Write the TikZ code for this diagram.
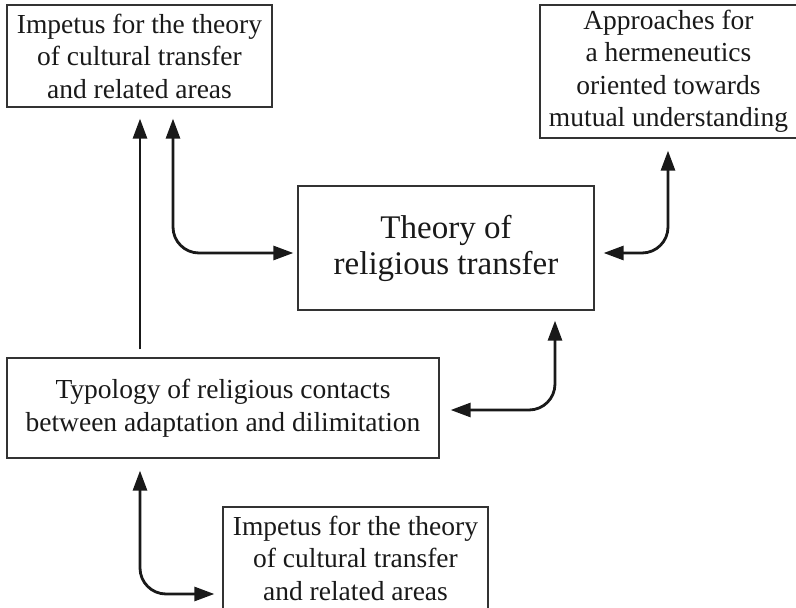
\documentclass[tikz,border=0pt]{standalone}
\usepackage{fontspec}
\setmainfont{Liberation Serif}
\usetikzlibrary{arrows.meta}
\begin{document}
\begin{tikzpicture}[x=1pt,y=-1pt,
  box/.style={draw=black!80, line width=1.3pt, inner sep=0pt, align=center,
    font=\fontsize{27.5}{32.5}\selectfont, text=black!90},
  bigbox/.style={box, font=\fontsize{33}{36}\selectfont},
  conn/.style={draw=black!90, line width=2.8pt, rounded corners=26pt},
  tip/.style={Triangle[length=20pt,width=14pt]},
  one/.style={conn, -{Triangle[length=20pt,width=14pt]}},
  two/.style={conn, {Triangle[length=20pt,width=14pt]}-{Triangle[length=20pt,width=14pt]}}
]
\useasboundingbox (0,0) rectangle (796,608);

\node[box, minimum width=265pt, minimum height=102pt] (topleft) at (139.5,56)
  {Impetus for the theory\\of cultural transfer\\and related areas};
\node[box, minimum width=257pt, minimum height=133pt] (topright) at (668.5,71.5)
  {Approaches for\\a hermeneutics\\oriented towards\\mutual understanding};
\node[bigbox, minimum width=296pt, minimum height=124pt] (center) at (446,248)
  {Theory of\\religious transfer};
\node[box, minimum width=432pt, minimum height=100pt] (typology) at (223,408)
  {Typology of religious contacts\\between adaptation and dilimitation};
\node[box, minimum width=265pt, minimum height=102pt] (bottom) at (355.5,558)
  {Impetus for the theory\\of cultural transfer\\and related areas};

\coordinate (k1) at (173,253);
\coordinate (k2) at (668,253);
\coordinate (k3) at (555,410);
\coordinate (k4) at (140,594);

% straight arrow from typology up to top-left box
\draw[one, shorten <=8pt, shorten >=11pt] (typology.north -| k4) -- (topleft.south -| k4);
% top-left box <-> theory
\draw[two, shorten <=11pt, shorten >=4pt] (topleft.south -| k1) -- (k1) -- (center.west |- k1);
% theory <-> approaches
\draw[two, shorten <=9pt, shorten >=12pt] (center.east |- k2) -- (k2) -- (topright.south -| k2);
% theory <-> typology
\draw[two, shorten <=10pt, shorten >=11pt] (center.south -| k3) -- (k3) -- (typology.east |- k3);
% typology <-> bottom box
\draw[two, shorten <=12pt, shorten >=8pt] (typology.south -| k4) -- (k4) -- (bottom.west |- k4);
\end{tikzpicture}
\end{document}
